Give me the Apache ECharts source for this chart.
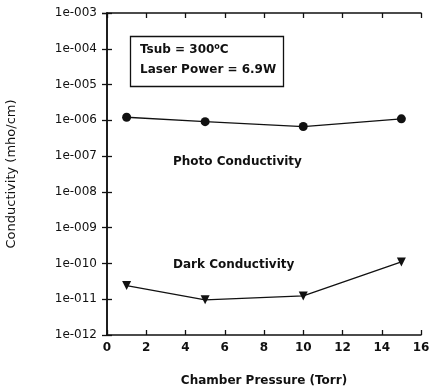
<!DOCTYPE html>
<html>
<head>
<meta charset="utf-8">
<script src="https://cdn.jsdelivr.net/npm/echarts@6/dist/echarts.min.js"></script>
<style>html,body{margin:0;padding:0;background:#fff}#c{width:431px;height:388px}</style>
</head>
<body>
<div id="c"></div>
<script>
// Chamber pressure (Torr) at each measurement
const pressure = [1, 5, 10, 15];
// Conductivity (mho/cm) under illumination and in the dark
const photoConductivity = [1.22e-6, 9.2e-7, 6.7e-7, 1.1e-6];
const darkConductivity = [2.4e-11, 9.6e-12, 1.24e-11, 1.1e-10];
// Axis ranges
const xTicks = [0, 2, 4, 6, 8, 10, 12, 14, 16];
const yExponents = [-12, -3];

const FONT = 'DejaVu Sans';
const INK = '#111';

function expLabel(v) {
  const e = Math.round(Math.log10(v));
  const s = String(Math.abs(e)).padStart(3, '0');
  return '1e' + (e < 0 ? '-' : '+') + s;
}

const chart = echarts.init(document.getElementById('c'));
const yMin = Math.pow(10, yExponents[0]);
const yMax = Math.pow(10, yExponents[1]);
const xMin = xTicks[0], xMax = xTicks[xTicks.length - 1];

const axisLine = { show: true, lineStyle: { color: INK, width: 1.5 } };
const tick = { show: true, inside: true, length: 5, lineStyle: { color: INK, width: 1.3 } };

chart.setOption({
  animation: false,
  backgroundColor: '#fff',
  grid: { left: 107, right: 10, top: 13, bottom: 53, containLabel: false, outerBoundsMode: 'none' },
  xAxis: [
    {
      type: 'value', min: xMin, max: xMax, interval: 2,
      position: 'bottom',
      axisLine, axisTick: tick, splitLine: { show: false },
      axisLabel: { color: INK, fontFamily: FONT, fontSize: 12, fontWeight: 'bold', margin: 7 },
      name: 'Chamber Pressure (Torr)', nameLocation: 'middle', nameGap: 40,
      nameTextStyle: { color: INK, fontFamily: FONT, fontSize: 12, fontWeight: 'bold' }
    },
    {
      type: 'value', min: xMin, max: xMax, interval: 2,
      position: 'top',
      axisLine, axisTick: tick, splitLine: { show: false },
      axisLabel: { show: false }
    }
  ],
  yAxis: [
    {
      type: 'log', logBase: 10, min: yMin, max: yMax,
      position: 'left',
      axisLine, axisTick: tick, splitLine: { show: false },
      axisLabel: { color: INK, fontFamily: FONT, fontSize: 12, margin: 10, formatter: expLabel },
      name: 'Conductivity (mho/cm)', nameLocation: 'middle', nameGap: 89,
      nameTextStyle: { color: INK, fontFamily: FONT, fontSize: 13 }
    },
    {
      type: 'log', logBase: 10, min: yMin, max: yMax,
      position: 'right',
      axisLine, axisTick: tick, splitLine: { show: false },
      axisLabel: { show: false }
    }
  ],
  series: [
    {
      name: 'Photo Conductivity', type: 'line',
      data: pressure.map((p, i) => [p, photoConductivity[i]]),
      symbol: 'circle', symbolSize: 9,
      lineStyle: { color: INK, width: 1.3 },
      itemStyle: { color: INK }
    },
    {
      name: 'Dark Conductivity', type: 'line',
      data: pressure.map((p, i) => [p, darkConductivity[i]]),
      symbol: 'triangle', symbolRotate: 180, symbolSize: 9,
      lineStyle: { color: INK, width: 1.3 },
      itemStyle: { color: INK }
    }
  ],
  graphic: [
    {
      type: 'rect', shape: { x: 130.5, y: 36.5, width: 153, height: 50 },
      style: { fill: 'none', stroke: INK, lineWidth: 1.3 }
    },
    {
      type: 'text', left: 140, top: 43,
      style: {
        text: '{a|Tsub = 300}{s|o}{a|C}',
        rich: {
          a: { fontFamily: FONT, fontSize: 12, fontWeight: 'bold', fill: INK },
          s: { fontFamily: FONT, fontSize: 8, fontWeight: 'bold', fill: INK, verticalAlign: 'top', padding: [0, 0, 6, 0] }
        }
      }
    },
    {
      type: 'text', left: 140, top: 64,
      style: { text: 'Laser Power = 6.9W', font: 'bold 12px "DejaVu Sans"', fill: INK }
    },
    {
      type: 'text', left: 173, top: 156,
      style: { text: 'Photo Conductivity', font: 'bold 12px "DejaVu Sans"', fill: INK }
    },
    {
      type: 'text', left: 173, top: 259,
      style: { text: 'Dark Conductivity', font: 'bold 12px "DejaVu Sans"', fill: INK }
    }
  ]
});
</script>
</body>
</html>
